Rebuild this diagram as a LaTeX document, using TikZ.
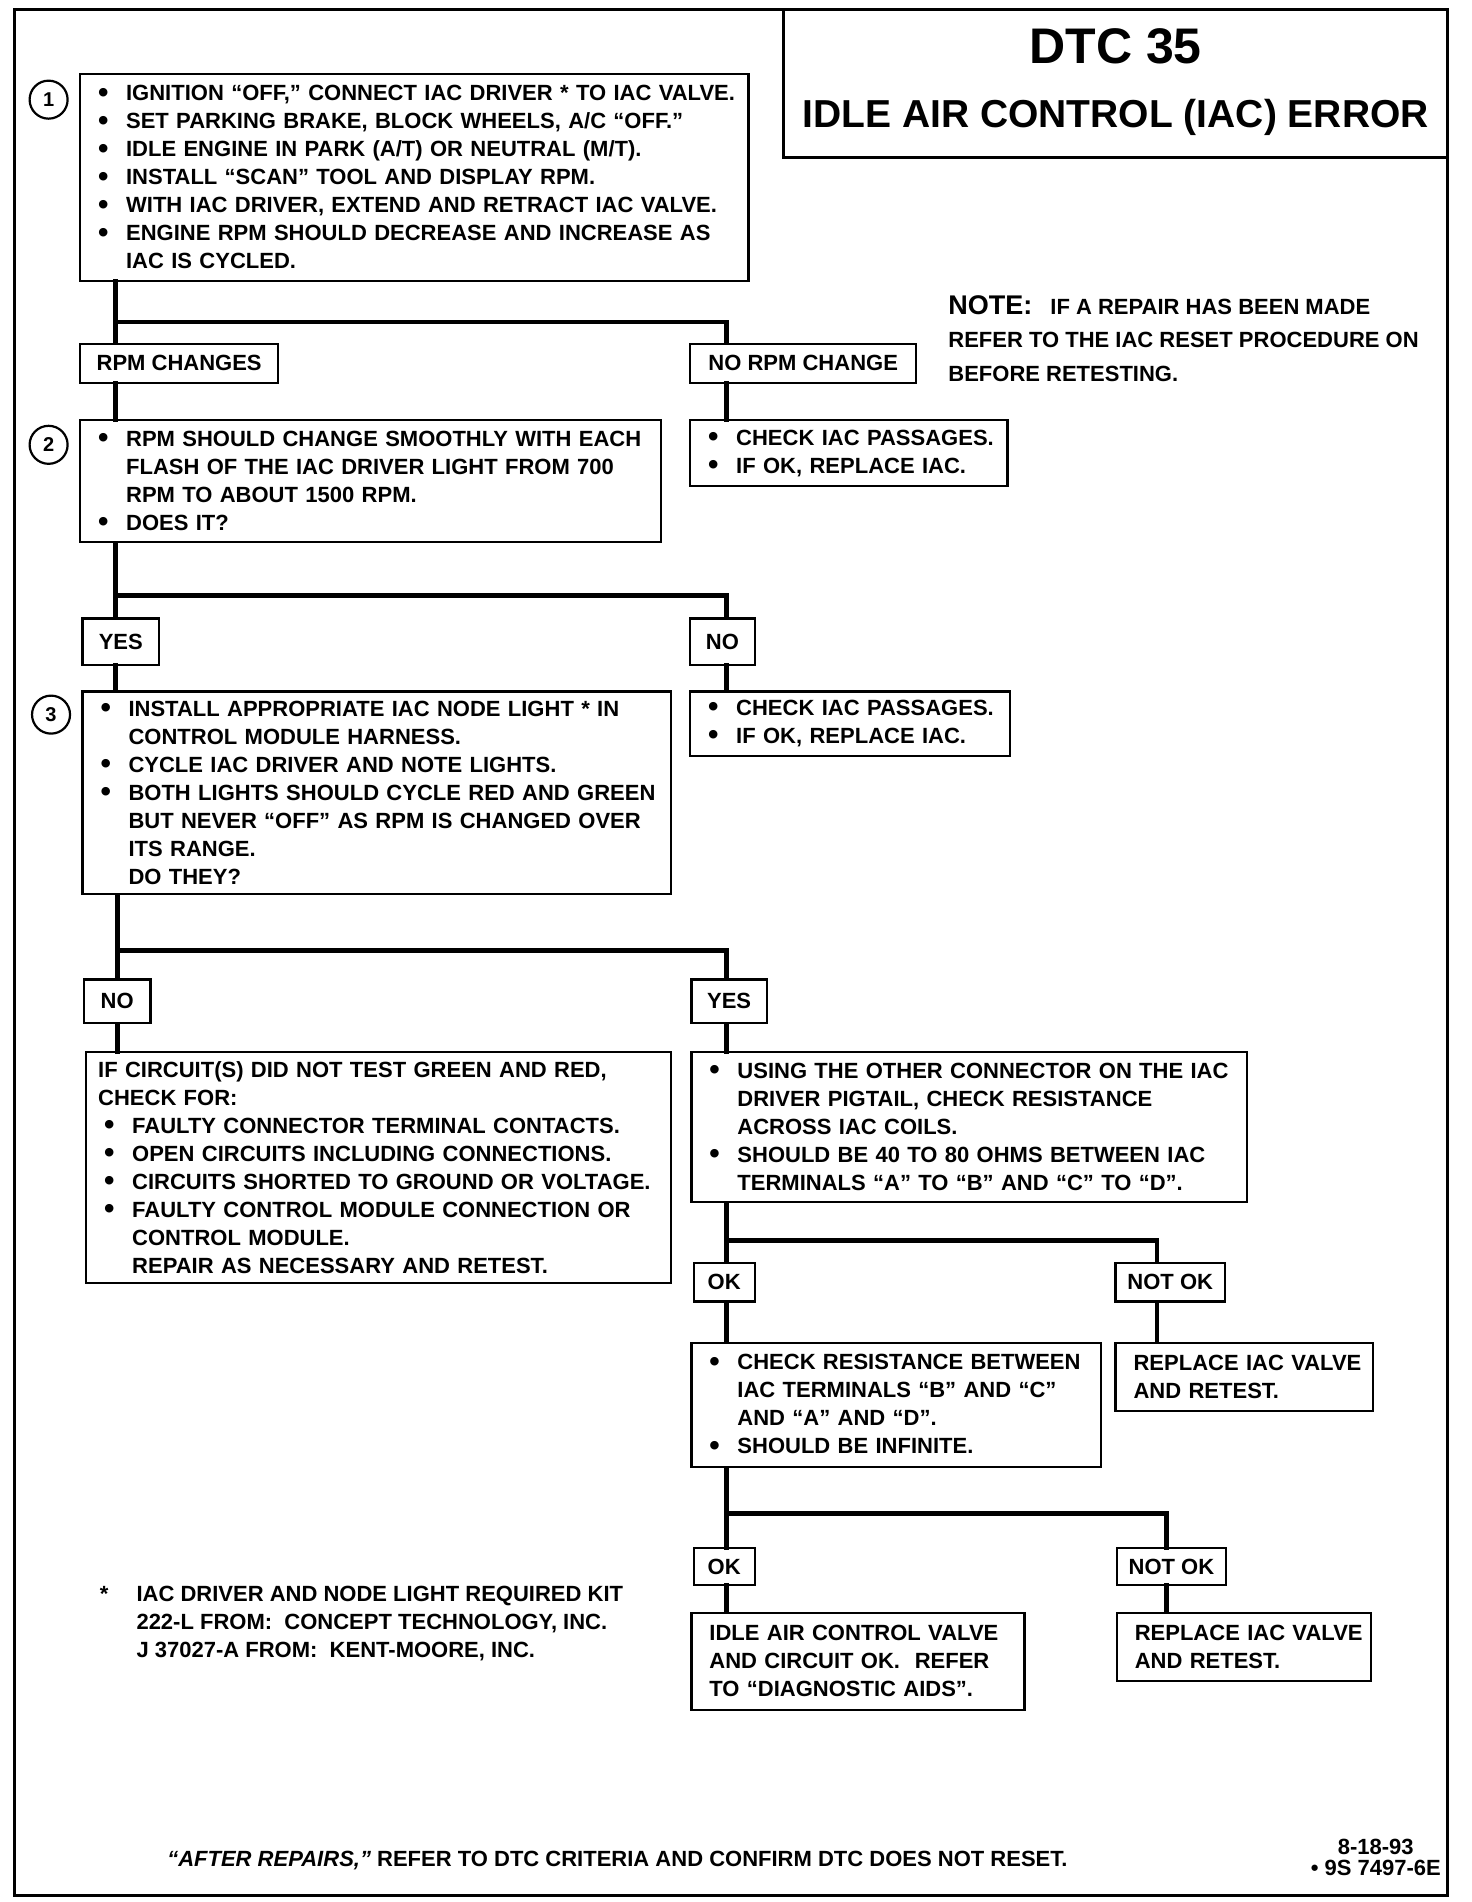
\documentclass[tikz,border=0pt]{standalone}
\usepackage{fontspec}
\setmainfont{Liberation Sans}

\newcommand{\itm}[1]{\mbox{\makebox[14pt][l]{\raisebox{-0.6pt}{\scalebox{1.35}{\textbullet}}}#1}}
\newcommand{\cnt}[1]{\mbox{\hspace*{14pt}#1}}

\begin{document}
\begin{tikzpicture}[x=0.6075pt,y=-0.6075pt]
\useasboundingbox (0,0) rectangle (1211,1565);
\tikzstyle{every node}=[font=\bfseries\fontsize{11}{14}\selectfont]
\tikzset{box/.style 2 args={draw,line width=1.1pt,anchor=north west,inner xsep=9pt,inner ysep=0pt,
    minimum width=#1*0.6075pt,minimum height=#2*0.6075pt,text width=#1*0.6075pt-18pt,align=left},
  lbl/.style 2 args={draw,line width=1.1pt,anchor=north west,inner sep=0pt,
    minimum width=#1*0.6075pt,minimum height=#2*0.6075pt}}
\tikzstyle{num}=[circle,draw,line width=1.1pt,minimum size=19pt,inner sep=0pt,font=\bfseries\fontsize{10}{12}\selectfont]

\draw[line width=1.5pt] (12,8) rectangle (1191,1560);
\draw[line width=1.5pt] (645,8) rectangle (1191,130);
\node[font=\bfseries\fontsize{25}{30}\selectfont] (dtc) at (918,38) {DTC 35};
\node[font=\bfseries\fontsize{19.5}{23}\selectfont] (title) at (918,97) {IDLE AIR CONTROL (IAC) ERROR};

\node[num] (n1) at (40,82) {1};
\node[box={550}{170}] (b1) at (65,60) {\itm{IGNITION “OFF,” CONNECT IAC DRIVER * TO IAC VALVE.}\\
  \itm{SET PARKING BRAKE, BLOCK WHEELS, A/C “OFF.”}\\
  \itm{IDLE ENGINE IN PARK (A/T) OR NEUTRAL (M/T).}\\
  \itm{INSTALL “SCAN” TOOL AND DISPLAY RPM.}\\
  \itm{WITH IAC DRIVER, EXTEND AND RETRACT IAC VALVE.}\\
  \itm{ENGINE RPM SHOULD DECREASE AND INCREASE AS}\\
  \cnt{IAC IS CYCLED.}};

\node[anchor=north west,inner sep=0pt,align=left,font=\bfseries\fontsize{11}{16.7}\selectfont] (note) at (780,243)
  {{\fontsize{13.5}{16.7}\selectfont NOTE:}\hspace{9pt}IF A REPAIR HAS BEEN MADE\\
  REFER TO THE IAC RESET PROCEDURE ON\\BEFORE RETESTING.};

\node[lbl={163}{32}] (rpmchg) at (65,282) {RPM CHANGES};
\node[lbl={186}{32}] (norpm) at (567,282) {NO RPM CHANGE};

\node[num] (n2) at (40,366) {2};
\node[box={478}{100}] (b2) at (65,345) {\itm{RPM SHOULD CHANGE SMOOTHLY WITH EACH}\\
  \cnt{FLASH OF THE IAC DRIVER LIGHT FROM 700}\\
  \cnt{RPM TO ABOUT 1500 RPM.}\\
  \itm{DOES IT?}};
\node[box={261}{54}] (c1) at (567,345) {\itm{CHECK IAC PASSAGES.}\\\itm{IF OK, REPLACE IAC.}};

\node[lbl={63}{38}] (yes1) at (67,508) {YES};
\node[lbl={53}{38}] (no1) at (567,508) {NO};

\node[num] (n3) at (42,588) {3};
\node[box={484}{167}] (b3) at (67,568) {\itm{INSTALL APPROPRIATE IAC NODE LIGHT * IN}\\
  \cnt{CONTROL MODULE HARNESS.}\\
  \itm{CYCLE IAC DRIVER AND NOTE LIGHTS.}\\
  \itm{BOTH LIGHTS SHOULD CYCLE RED AND GREEN}\\
  \cnt{BUT NEVER “OFF” AS RPM IS CHANGED OVER}\\
  \cnt{ITS RANGE.}\\
  \cnt{DO THEY?}};
\node[box={263}{53}] (c2) at (567,568) {\itm{CHECK IAC PASSAGES.}\\\itm{IF OK, REPLACE IAC.}};

\node[lbl={55}{36}] (no2) at (68,805) {NO};
\node[lbl={62}{36}] (yes2) at (568,805) {YES};

\node[box={481}{190}] (b4) at (70,865) {\mbox{\hspace*{-3pt}IF CIRCUIT(S) DID NOT TEST GREEN AND RED,}\\
  \mbox{\hspace*{-3pt}CHECK FOR:}\\
  \itm{FAULTY CONNECTOR TERMINAL CONTACTS.}\\
  \itm{OPEN CIRCUITS INCLUDING CONNECTIONS.}\\
  \itm{CIRCUITS SHORTED TO GROUND OR VOLTAGE.}\\
  \itm{FAULTY CONTROL MODULE CONNECTION OR}\\
  \cnt{CONTROL MODULE.}\\
  \cnt{REPAIR AS NECESSARY AND RETEST.}};
\node[box={457}{123}] (b5) at (568,865) {\itm{USING THE OTHER CONNECTOR ON THE IAC}\\
  \cnt{DRIVER PIGTAIL, CHECK RESISTANCE}\\
  \cnt{ACROSS IAC COILS.}\\
  \itm{SHOULD BE 40 TO 80 OHMS BETWEEN IAC}\\
  \cnt{TERMINALS “A” TO “B” AND “C” TO “D”.}};

\node[lbl={50}{32}] (ok1) at (570,1038) {OK};
\node[lbl={90}{32}] (notok1) at (917,1038) {NOT OK};

\node[box={337}{102}] (b6) at (568,1104) {\itm{CHECK RESISTANCE BETWEEN}\\
  \cnt{IAC TERMINALS “B” AND “C”}\\
  \cnt{AND “A” AND “D”.}\\
  \itm{SHOULD BE INFINITE.}};
\node[box={212}{56}] (b7) at (917,1104) {\mbox{REPLACE IAC VALVE}\\\mbox{AND RETEST.}};

\node[lbl={50}{30}] (ok2) at (570,1273) {OK};
\node[lbl={90}{30}] (notok2) at (918,1273) {NOT OK};

\node[box={274}{80}] (b8) at (568,1326) {\mbox{IDLE AIR CONTROL VALVE}\\\mbox{AND CIRCUIT OK.\ \ REFER}\\\mbox{TO “DIAGNOSTIC AIDS”.}};
\node[box={209}{56}] (b9) at (918,1326) {\mbox{REPLACE IAC VALVE}\\\mbox{AND RETEST.}};

\node[anchor=north west,inner sep=0pt,align=left] (kit) at (112,1305) {\llap{*\hspace{14pt}}IAC DRIVER AND NODE LIGHT REQUIRED KIT\\
  222-L FROM:\ \ CONCEPT TECHNOLOGY, INC.\\J 37027-A FROM:\ \ KENT-MOORE, INC.};

\node (after) at (508,1531) {{\itshape “AFTER REPAIRS,”} REFER TO DTC CRITERIA AND CONFIRM DTC DOES NOT RESET.};
\node[align=center,font=\bfseries\fontsize{11}{10.5}\selectfont] (code) at (1132,1528) {8-18-93\\\textbullet\ 9S 7497-6E};

\coordinate (j1) at (95,265);
\coordinate (j1r) at (598,265);
\coordinate (j2) at (95,490);
\coordinate (j2r) at (598,490);
\coordinate (j3) at (97,782);
\coordinate (j3r) at (598,782);
\coordinate (j4) at (598,1021);
\coordinate (j4r) at (952,1021);
\coordinate (j5) at (598,1245);
\coordinate (j5r) at (960,1245);

\tikzstyle{every edge}=[draw,line width=2.4pt,line cap=rect]
\path
(b1.south -| j1) edge (j1)
(j1) edge (j1r)
(j1) edge (j1 |- rpmchg.north)
(j1r) edge (j1r |- norpm.north)
(rpmchg.south -| j1) edge (j1 |- b2.north)
(norpm.south -| j1r) edge (j1r |- c1.north)
(b2.south -| j2) edge (j2)
(j2) edge (j2r)
(j2) edge (j2 |- yes1.north)
(j2r) edge (j2r |- no1.north)
(yes1.south -| j2) edge (j2 |- b3.north)
(no1.south -| j2r) edge (j2r |- c2.north)
(b3.south -| j3) edge (j3)
(j3) edge (j3r)
(j3) edge (j3 |- no2.north)
(j3r) edge (j3r |- yes2.north)
(no2.south -| j3) edge (j3 |- b4.north)
(yes2.south -| j3r) edge (j3r |- b5.north)
(b5.south -| j4) edge (j4)
(j4) edge (j4r)
(j4) edge (j4 |- ok1.north)
(j4r) edge (j4r |- notok1.north)
(ok1.south -| j4) edge (j4 |- b6.north)
(notok1.south -| j4r) edge (j4r |- b7.north)
(b6.south -| j5) edge (j5)
(j5) edge (j5r)
(j5) edge (j5 |- ok2.north)
(j5r) edge (j5r |- notok2.north)
(ok2.south -| j5) edge (j5 |- b8.north)
(notok2.south -| j5r) edge (j5r |- b9.north);

\end{tikzpicture}
\end{document}
